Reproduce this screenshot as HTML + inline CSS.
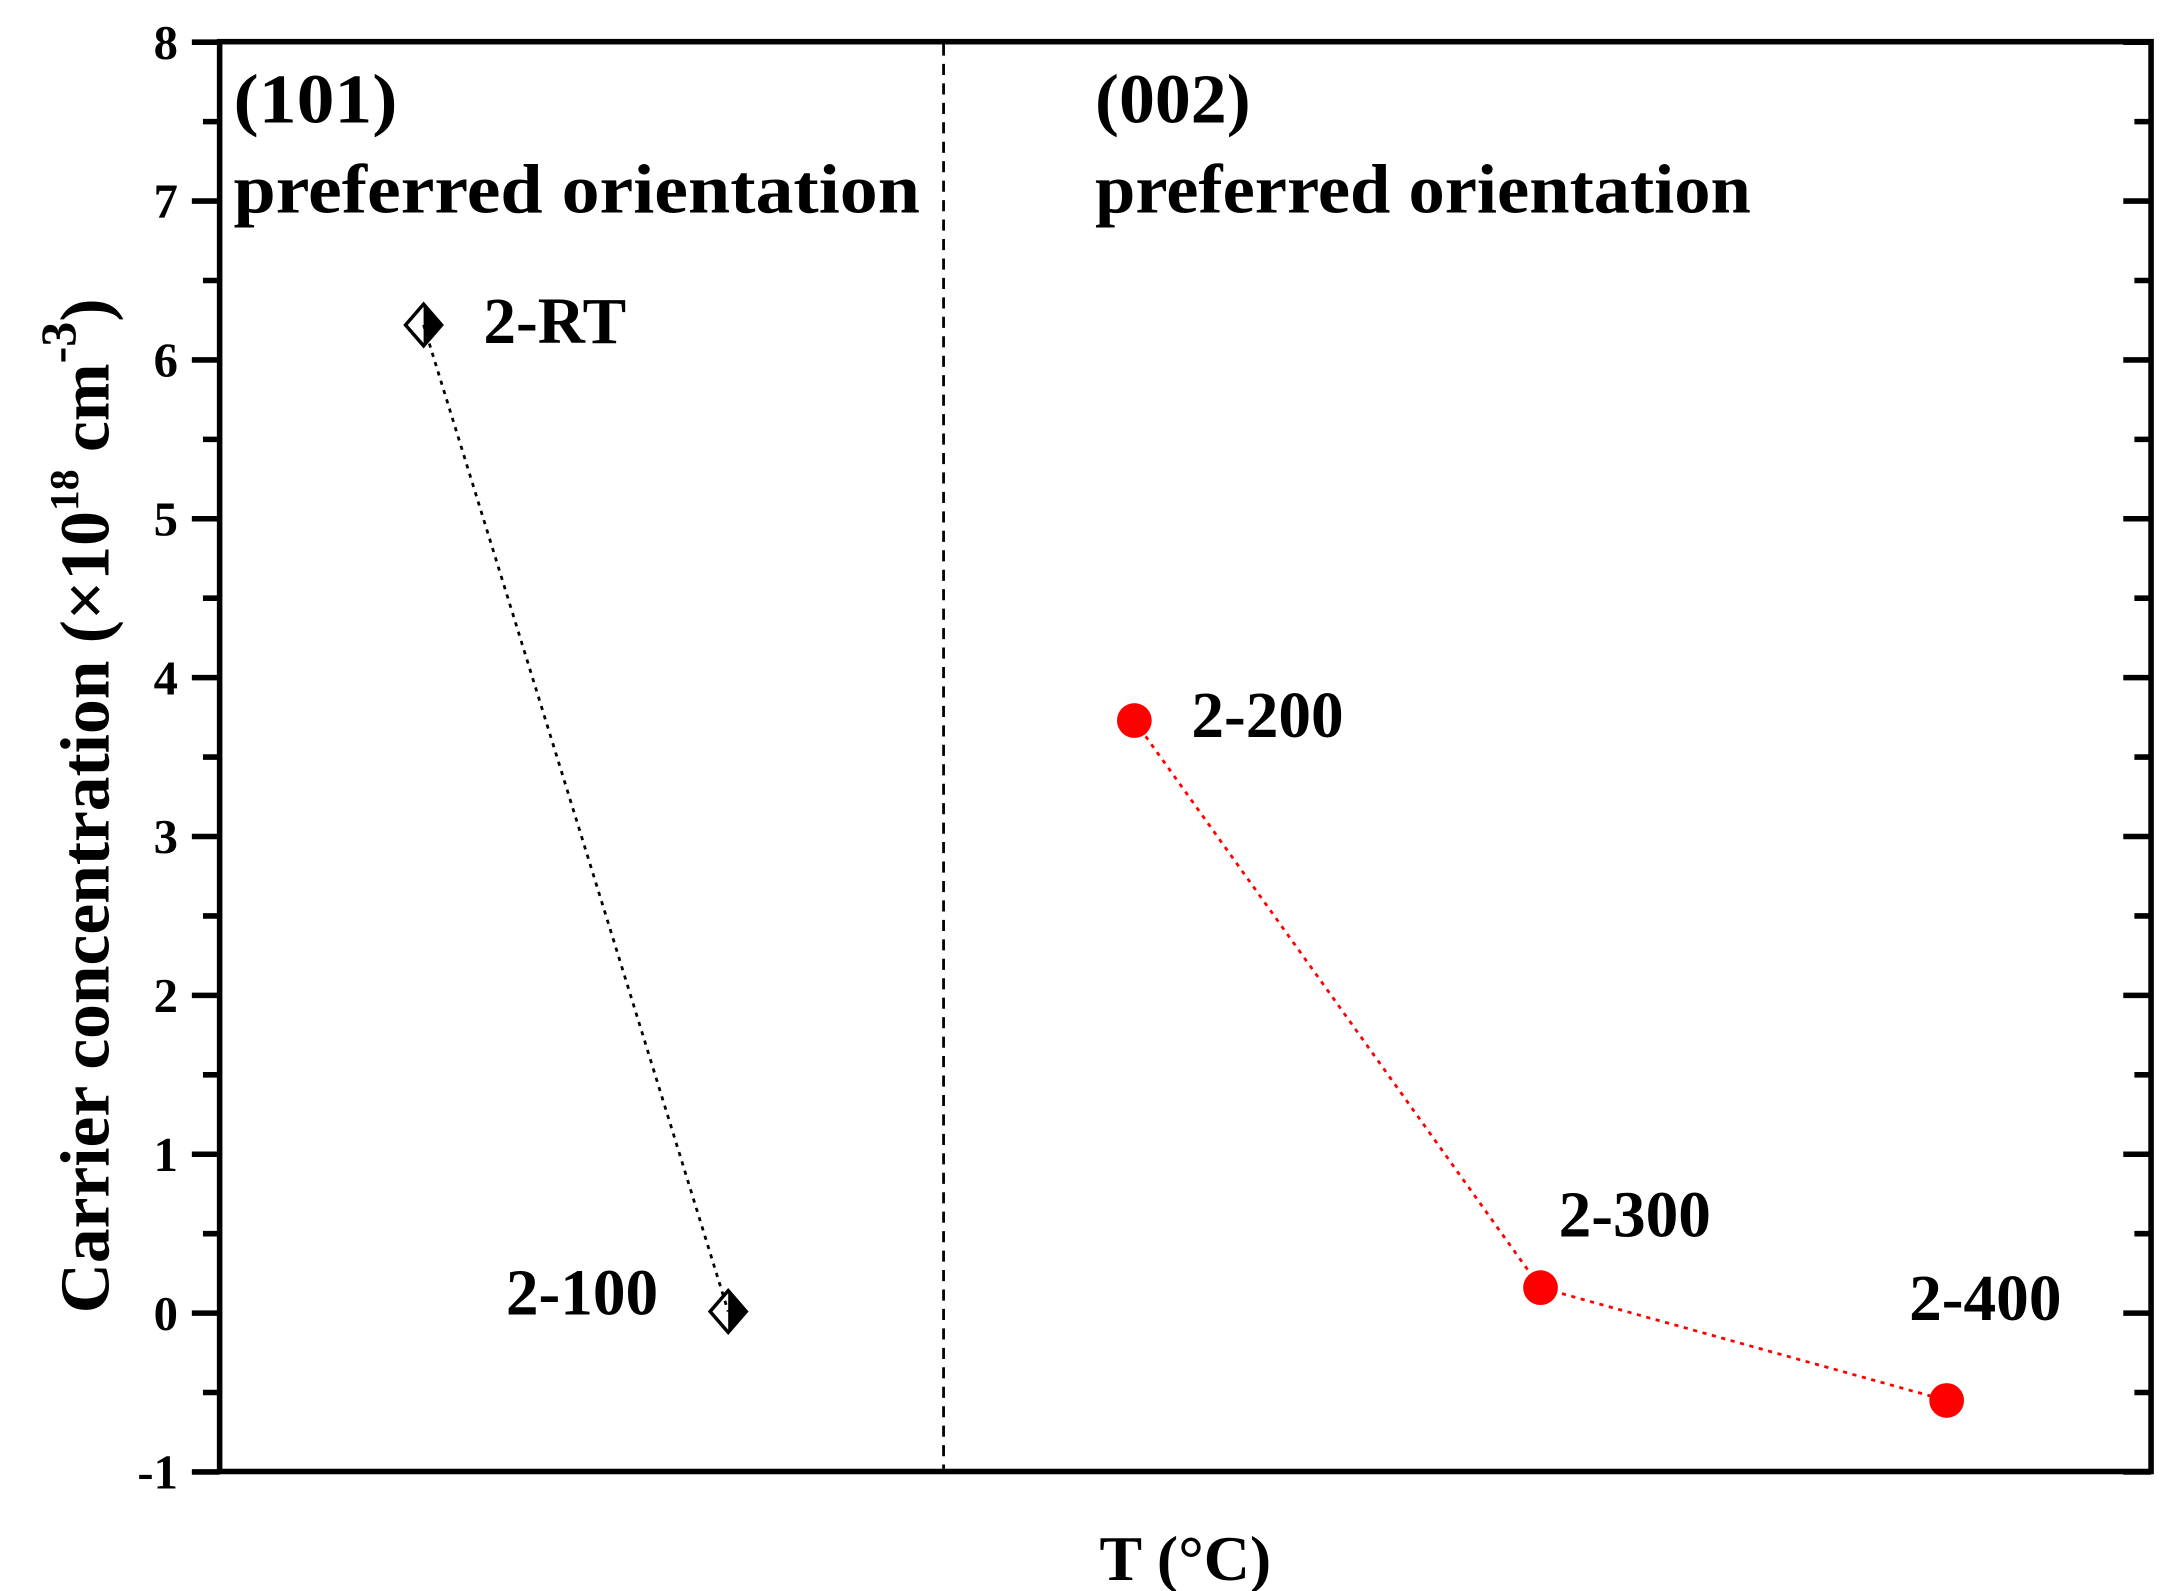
<!DOCTYPE html>
<html><head><meta charset="utf-8"><style>
html,body{margin:0;padding:0;background:#fff;}
svg{display:block;font-family:"Liberation Serif",serif;font-weight:bold;}
</style></head><body>
<svg id="chart" width="2172" height="1591" viewBox="0 0 1563 1145" xmlns="http://www.w3.org/2000/svg">
<rect width="1563" height="1145" fill="#fff"/>
<g id="ticks"></g>
<line x1="679" y1="32" x2="679" y2="1057" stroke="#000" stroke-width="2" stroke-dasharray="8,6"/>
<g id="series"></g>
<rect x="158" y="30" width="1390" height="1029" fill="none" stroke="#000" stroke-width="4"/>
<text x="168" y="88" font-size="50" textLength="118" lengthAdjust="spacingAndGlyphs">(101)</text>
<text x="168" y="153" font-size="50" textLength="494" lengthAdjust="spacingAndGlyphs">preferred orientation</text>
<text x="788" y="88" font-size="50" textLength="112" lengthAdjust="spacingAndGlyphs">(002)</text>
<text x="788" y="153" font-size="50" textLength="472" lengthAdjust="spacingAndGlyphs">preferred orientation</text>
<text transform="translate(78,580) rotate(-90)" text-anchor="middle" font-size="50">Carrier concentration (×10<tspan font-size="30" dy="-22">18</tspan><tspan dy="22"> cm</tspan><tspan font-size="36" dy="-24">-3</tspan><tspan dy="24">)</tspan></text>
<text x="853" y="1137" text-anchor="middle" font-size="46">T (°C)</text>
</svg>
<script>
const yTicks = [-1,0,1,2,3,4,5,6,7,8];
const labels = ["2-RT","2-100","2-200","2-300","2-400"];
const xVals = [0.25,1,2,3,4];
const yVals = [6.22,0.01,3.73,0.16,-0.55];
const groupA = [0,1];
const groupB = [2,3,4];
const NS="http://www.w3.org/2000/svg";
const X = v => 524 + (v-1)*292.3;
const Y = v => 945 - v*114.33;
function mk(tag,attrs,parent){const e=document.createElementNS(NS,tag);for(const k in attrs)e.setAttribute(k,attrs[k]);parent.appendChild(e);return e;}
const tg=document.getElementById('ticks');
for(let v=-1;v<=8;v+=0.5){
  const major=Number.isInteger(v);
  const l=mk('line',{x1:major?138:146,x2:158,y1:Y(v),y2:Y(v),stroke:'#000','stroke-width':4},tg);
  
  
  const r=mk('line',{x1:1548,x2:major?1528:1536,y1:Y(v),y2:Y(v),stroke:'#000','stroke-width':4},tg);
  
  
}
yTicks.forEach(v=>{
  const t=mk('text',{x:128,y:Y(v)+12,'text-anchor':'end','font-size':35},tg);
  t.textContent=v;
  
  
});
const sg=document.getElementById('series');
function path(idx,color){
  const d=idx.map((i,k)=>(k?'L':'M')+X(xVals[i])+','+Y(yVals[i])).join(' ');
  const p=mk('path',{d:d,fill:'none',stroke:color,'stroke-width':2,'stroke-dasharray':'3,4'},sg);
  
  
}
path(groupA,'#000');path(groupB,'#ff0000');
const labOff=[[43,13],[-160,2],[41,12],[13,-37],[-27,-58]];
groupA.forEach(i=>{
  const cx=X(xVals[i]),cy=Y(yVals[i]);
  const g=mk('g',{},sg);
  
  
  mk('path',{d:`M${cx},${cy-15} L${cx+13},${cy} L${cx},${cy+15} Z`,fill:'#000'},g);
  mk('path',{d:`M${cx},${cy-15} L${cx+13},${cy} L${cx},${cy+15} L${cx-13},${cy} Z`,fill:'#fff','fill-opacity':0,stroke:'#000','stroke-width':2.5},g);
});
groupB.forEach(i=>{
  const c=mk('circle',{cx:X(xVals[i]),cy:Y(yVals[i]),r:12.5,fill:'#ff0000'},sg);
  
  
});
labels.forEach((s,i)=>{
  const t=mk('text',{x:X(xVals[i])+labOff[i][0],y:Y(yVals[i])+labOff[i][1],'font-size':47},sg);
  t.textContent=s;
  
  
});
</script>
</body></html>
